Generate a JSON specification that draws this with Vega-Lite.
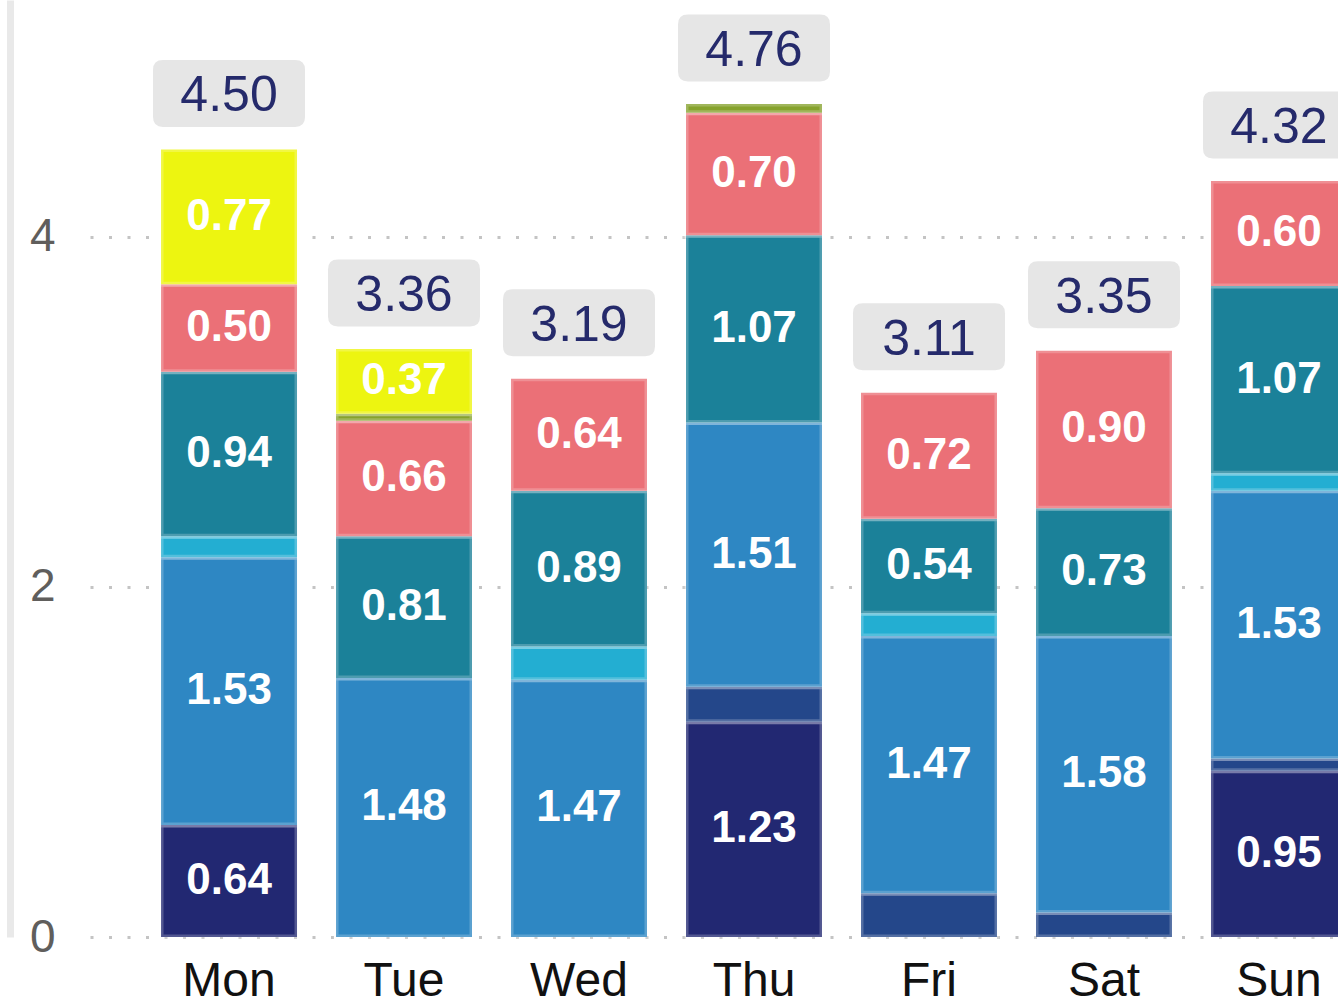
{
  "$schema": "https://vega.github.io/schema/vega-lite/v6.json",
  "width": 1248,
  "height": 937,
  "autosize": "none",
  "padding": {"left": 90, "top": 0, "right": 0, "bottom": 60},
  "background": "white",
  "config": {"view": {"stroke": null}, "font": "Liberation Sans"},
  "data": {
    "values": [
      {"day": "Mon", "cat": "T1", "value": 0.64},
      {"day": "Mon", "cat": "T3", "value": 1.53},
      {"day": "Mon", "cat": "T4", "value": 0.12},
      {"day": "Mon", "cat": "T5", "value": 0.94},
      {"day": "Mon", "cat": "T6", "value": 0.50},
      {"day": "Mon", "cat": "T8", "value": 0.77},
      {"day": "Tue", "cat": "T3", "value": 1.48},
      {"day": "Tue", "cat": "T5", "value": 0.81},
      {"day": "Tue", "cat": "T6", "value": 0.66},
      {"day": "Tue", "cat": "T7", "value": 0.04},
      {"day": "Tue", "cat": "T8", "value": 0.37},
      {"day": "Wed", "cat": "T3", "value": 1.47},
      {"day": "Wed", "cat": "T4", "value": 0.19},
      {"day": "Wed", "cat": "T5", "value": 0.89},
      {"day": "Wed", "cat": "T6", "value": 0.64},
      {"day": "Thu", "cat": "T1", "value": 1.23},
      {"day": "Thu", "cat": "T2", "value": 0.20},
      {"day": "Thu", "cat": "T3", "value": 1.51},
      {"day": "Thu", "cat": "T5", "value": 1.07},
      {"day": "Thu", "cat": "T6", "value": 0.70},
      {"day": "Thu", "cat": "T7", "value": 0.05},
      {"day": "Fri", "cat": "T2", "value": 0.25},
      {"day": "Fri", "cat": "T3", "value": 1.47},
      {"day": "Fri", "cat": "T4", "value": 0.13},
      {"day": "Fri", "cat": "T5", "value": 0.54},
      {"day": "Fri", "cat": "T6", "value": 0.72},
      {"day": "Sat", "cat": "T2", "value": 0.14},
      {"day": "Sat", "cat": "T3", "value": 1.58},
      {"day": "Sat", "cat": "T5", "value": 0.73},
      {"day": "Sat", "cat": "T6", "value": 0.90},
      {"day": "Sun", "cat": "T1", "value": 0.95},
      {"day": "Sun", "cat": "T2", "value": 0.07},
      {"day": "Sun", "cat": "T3", "value": 1.53},
      {"day": "Sun", "cat": "T4", "value": 0.10},
      {"day": "Sun", "cat": "T5", "value": 1.07},
      {"day": "Sun", "cat": "T6", "value": 0.60}
    ]
  },
  "transform": [
    {"stack": "value", "groupby": ["day"], "sort": [{"field": "cat", "order": "ascending"}], "as": ["v0", "v1"]}
  ],
  "encoding": {
    "x": {
      "field": "day",
      "type": "nominal",
      "sort": ["Mon", "Tue", "Wed", "Thu", "Fri", "Sat", "Sun"],
      "scale": {"range": [0, 1328], "paddingInner": 0.223, "paddingOuter": 0.406},
      "axis": {
        "title": null,
        "domain": false,
        "ticks": false,
        "tickSize": 0,
        "labelPadding": 20,
        "labelFontSize": 48,
        "labelColor": "#111111",
        "labelAngle": 0,
        "labelFont": "Liberation Sans"
      }
    }
  },
  "layer": [
    {
      "mark": {"type": "bar", "stroke": "white", "strokeOpacity": 0.22, "strokeWidth": 5},
      "encoding": {
        "y": {
          "field": "v0",
          "type": "quantitative",
          "scale": {"domain": [0, 5.354], "nice": false, "zero": true},
          "axis": {
            "title": null,
            "values": [0, 2, 4],
            "format": "d",
            "grid": true,
            "gridDash": [3, 15.5],
            "gridColor": "#c4c4c4",
            "gridWidth": 3,
            "domain": true,
            "domainColor": "#e9e9e9",
            "domainWidth": 7,
            "offset": 80,
            "ticks": false,
            "tickSize": 0,
            "labelPadding": -45,
            "labelFontSize": 46,
            "labelColor": "#605e5c",
            "labelFont": "Liberation Sans"
          }
        },
        "y2": {"field": "v1"},
        "color": {
          "field": "cat",
          "type": "nominal",
          "scale": {
            "domain": ["T1", "T2", "T3", "T4", "T5", "T6", "T7", "T8"],
            "range": ["#222872", "#24478A", "#2E87C3", "#23AED2", "#1B8199", "#EB7077", "#86A22D", "#EDF510"]
          },
          "legend": null
        }
      }
    },
    {
      "transform": [
        {"filter": "datum.value >= 0.3"},
        {"calculate": "(datum.v0 + datum.v1) / 2", "as": "mid"}
      ],
      "mark": {"type": "text", "fontSize": 44, "fontWeight": "bold", "color": "white", "baseline": "middle", "align": "center"},
      "encoding": {
        "y": {"field": "mid", "type": "quantitative"},
        "text": {"field": "value", "type": "quantitative", "format": ".2f"}
      }
    },
    {
      "transform": [{"aggregate": [{"op": "sum", "field": "value", "as": "total"}], "groupby": ["day"]}],
      "mark": {
        "type": "point",
        "shape": "M -0.87 -0.44 L 0.87 -0.44 Q 1 -0.44 1 -0.31 L 1 0.31 Q 1 0.44 0.87 0.44 L -0.87 0.44 Q -1 0.44 -1 0.31 L -1 -0.31 Q -1 -0.44 -0.87 -0.44 Z",
        "size": 23104,
        "filled": true,
        "fill": "#e6e6e6",
        "opacity": 1,
        "strokeWidth": 0,
        "yOffset": -56
      },
      "encoding": {"y": {"field": "total", "type": "quantitative"}}
    },
    {
      "transform": [{"aggregate": [{"op": "sum", "field": "value", "as": "total"}], "groupby": ["day"]}],
      "mark": {"type": "text", "fontSize": 50, "color": "#252a6b", "baseline": "alphabetic", "align": "center", "dy": -38},
      "encoding": {
        "y": {"field": "total", "type": "quantitative"},
        "text": {"field": "total", "type": "quantitative", "format": ".2f"}
      }
    }
  ]
}
